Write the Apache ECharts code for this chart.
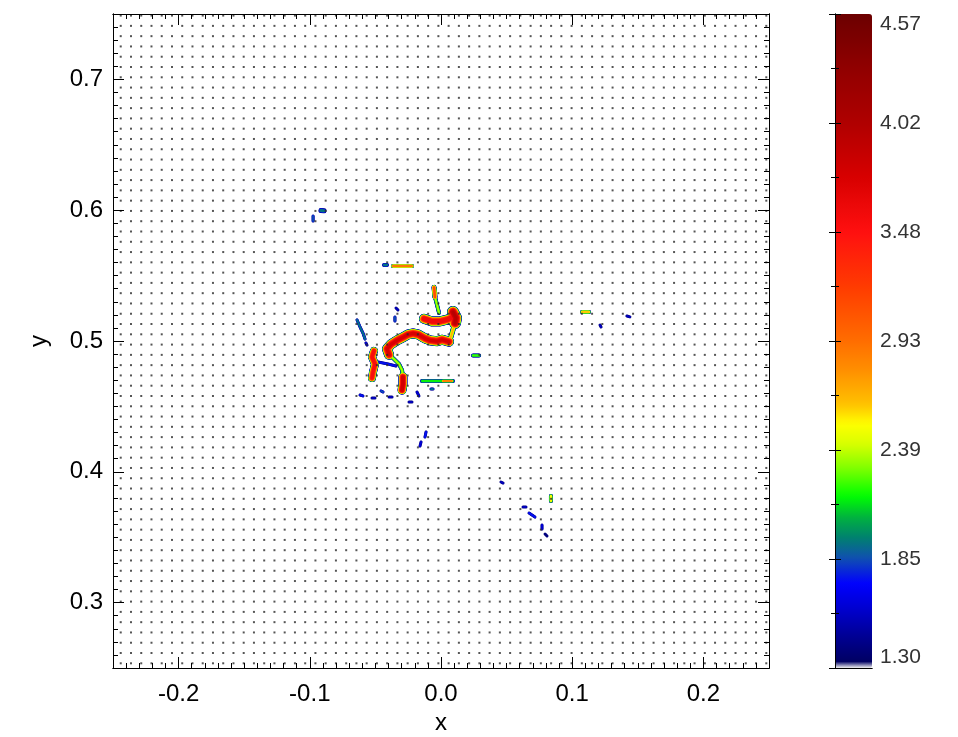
<!DOCTYPE html>
<html>
<head>
<meta charset="utf-8">
<script src="https://cdn.jsdelivr.net/npm/echarts@6/dist/echarts.min.js"></script>
<style>
  html, body { margin: 0; padding: 0; background: #ffffff; }
  #chart { width: 958px; height: 737px; }
</style>
</head>
<body>
<div id="chart"></div>
<script>
// ---- axis ticks and labels ----
const xTicks = [-0.2, -0.1, 0.0, 0.1, 0.2];
const yTicks = [0.3, 0.4, 0.5, 0.6, 0.7];
const cbarLabels = ['1.30', '1.85', '2.39', '2.93', '3.48', '4.02', '4.57'];
const cbarMin = 1.30;
const cbarMax = 4.57;

// ---- filament ridges: polylines of [x, y] and the peak value reached on each ----
const ridgePaths = [
  [[-0.0130, 0.5170], [-0.0069, 0.5150], [-0.0008, 0.5150], [0.0053, 0.5165], [0.0107, 0.5190]],   // hook, upper band
  [[0.0091, 0.5222], [0.0114, 0.5176], [0.0107, 0.5138]],                                          // hook, right knot
  [[0.0107, 0.5138], [0.0091, 0.5084], [0.0076, 0.5031], [0.0061, 0.4995]],                        // hook, right arm
  [[0.0061, 0.4995], [0.0008, 0.5010], [-0.0030, 0.4998], [-0.0084, 0.5005], [-0.0122, 0.5020],
   [-0.0175, 0.5050], [-0.0213, 0.5058], [-0.0251, 0.5050], [-0.0290, 0.5028], [-0.0335, 0.5005],
   [-0.0381, 0.4975], [-0.0412, 0.4940], [-0.0396, 0.4895]],                                       // central wiggle
  [[-0.0396, 0.4895], [-0.0358, 0.4862], [-0.0320, 0.4824], [-0.0297, 0.4778], [-0.0290, 0.4725]], // thin link
  [[-0.0290, 0.4725], [-0.0290, 0.4671], [-0.0297, 0.4625]],                                       // lower knot
  [[-0.0511, 0.4924], [-0.0526, 0.4878], [-0.0503, 0.4824], [-0.0518, 0.4763], [-0.0526, 0.4717]], // left knot
  [[-0.0480, 0.4839], [-0.0404, 0.4824], [-0.0343, 0.4809]],                                       // left link
  [[-0.0053, 0.5410], [-0.0046, 0.5336]],                                                          // vertical, upper
  [[-0.0046, 0.5336], [-0.0030, 0.5275], [-0.0015, 0.5215]],                                       // vertical, lower
  [[-0.0366, 0.5573], [-0.0221, 0.5573]],                                                          // upper bar
  [[-0.0434, 0.5581], [-0.0412, 0.5581]],
  [[-0.0145, 0.4694], [0.0091, 0.4694]],                                                           // lower bar
  [[0.0015, 0.4694], [0.0084, 0.4694]],
  [[-0.0640, 0.5161], [-0.0617, 0.5107], [-0.0595, 0.5061], [-0.0579, 0.5015]],                    // left diagonal
  [[0.0244, 0.4889], [0.0290, 0.4889]],
  [[-0.0915, 0.5998], [-0.0892, 0.5995]],
  [[-0.0975, 0.5956], [-0.0975, 0.5917]],
  [[-0.0343, 0.5252], [-0.0328, 0.5237]],
  [[-0.0351, 0.5184], [-0.0351, 0.5153]],
  [[-0.0617, 0.4587], [-0.0595, 0.4580]],
  [[-0.0526, 0.4564], [-0.0503, 0.4564]],
  [[-0.0457, 0.4618], [-0.0442, 0.4610]],
  [[-0.0396, 0.4572], [-0.0373, 0.4572]],
  [[-0.0244, 0.4534], [-0.0221, 0.4534]],
  [[-0.0183, 0.4610], [-0.0168, 0.4580]],
  [[-0.0076, 0.4633], [-0.0061, 0.4633]],
  [[-0.0114, 0.4304], [-0.0122, 0.4266]],
  [[-0.0152, 0.4228], [-0.0160, 0.4197]],
  [[0.0457, 0.3922], [0.0473, 0.3914]],
  [[0.0838, 0.3815], [0.0838, 0.3777]],
  [[0.0625, 0.3731], [0.0648, 0.3731]],
  [[0.0671, 0.3685], [0.0716, 0.3654]],
  [[0.0770, 0.3593], [0.0770, 0.3563]],
  [[0.0793, 0.3524], [0.0808, 0.3509]],
  [[0.1075, 0.5222], [0.1128, 0.5222]],
  [[0.1417, 0.5191], [0.1440, 0.5184]],
  [[0.1212, 0.5122], [0.1220, 0.5107]],
  [[-0.0572, 0.4985], [-0.0564, 0.4969]]
];
const ridgePeaks = [
  3.7, 4.0, 2.7, 3.8, 2.4, 3.9, 3.6, 1.8, 3.2, 2.4,
  3.0, 2.0, 2.2, 3.0, 2.0, 2.3,
  2.0, 1.9, 1.6, 1.9, 1.8, 1.6, 1.9, 1.6, 1.6, 1.7, 2.0, 1.8, 1.7,
  1.6, 2.6, 1.6, 1.8, 1.7, 1.5, 2.7, 1.6, 1.6, 1.7
];

// ---- drawing style ----
// full ridge thickness in pixels, one per ridge
const ridgeWidths = [
  10, 12, 5, 10, 4, 9, 8, 3, 5, 4,
  4, 4, 4, 3, 3, 4,
  5, 3, 3, 3, 3, 3, 3, 3, 3, 3, 3, 3, 3,
  3, 4, 3, 3, 3, 3, 4, 3, 3, 3
];
// contour levels used to shade each ridge from its rim to its crest
const shadeLevels = [1.30, 1.50, 1.70, 1.85, 2.00, 2.15, 2.30, 2.45, 2.60, 2.80,
                     3.00, 3.20, 3.45, 3.70, 3.95, 4.20, 4.45];
// colour table
const colorStops = [
  [1.300, '#f4f4f4'], [1.315, '#b0b0b0'], [1.325, '#000060'], [1.45, '#000090'],
  [1.60, '#0000d0'], [1.72, '#0000ff'], [1.85, '#1050b0'], [1.95, '#008070'],
  [2.05, '#00b040'], [2.16, '#00ff00'], [2.30, '#80ff00'], [2.42, '#d8ff00'],
  [2.52, '#ffff00'], [2.62, '#ffc000'], [2.80, '#ff8c00'], [2.95, '#ff6a00'],
  [3.20, '#ff3c00'], [3.48, '#ff1010'], [3.75, '#d80000'], [4.02, '#b00000'],
  [4.30, '#900000'], [4.57, '#6c0000']
];

function hexToRgb(h) {
  return [parseInt(h.slice(1, 3), 16), parseInt(h.slice(3, 5), 16), parseInt(h.slice(5, 7), 16)];
}
function colorAt(v) {
  if (v <= colorStops[0][0]) return colorStops[0][1];
  for (let i = 1; i < colorStops.length; i++) {
    if (v <= colorStops[i][0]) {
      const [v0, c0] = colorStops[i - 1];
      const [v1, c1] = colorStops[i];
      const f = (v - v0) / (v1 - v0);
      const a = hexToRgb(c0), b = hexToRgb(c1);
      const m = a.map((x, k) => Math.round(x + (b[k] - x) * f));
      return 'rgb(' + m.join(',') + ')';
    }
  }
  return colorStops[colorStops.length - 1][1];
}

// colour list for the colour bar, sampled evenly from min to max
const barColors = [];
for (let i = 0; i <= 300; i++) barColors.push(colorAt(cbarMin + (cbarMax - cbarMin) * i / 300));

// minor tick positions every 0.01
function minorTicks(lo, hi) {
  const out = [];
  for (let k = Math.round(lo * 100); k <= Math.round(hi * 100); k++) out.push(k / 100);
  return out;
}
const xMinor = minorTicks(-0.25, 0.25);
const yMinor = minorTicks(0.25, 0.75);

// sampling lattice drawn as small dots over the domain
const latticeX0 = -0.2441, latticeY0 = 0.2536, latticeStepX = 0.00781, latticeStepY = 0.00786, latticeN = 64;
const latticeDots = [];
for (let i = 0; i < latticeN; i++) {
  for (let j = 0; j < latticeN; j++) {
    latticeDots.push([latticeX0 + i * latticeStepX, latticeY0 + j * latticeStepY]);
  }
}

// one 'lines' series per shading level, so every rim sits beneath every crest
const ridgeSeries = shadeLevels.map((t, li) => {
  const next = li + 1 < shadeLevels.length ? shadeLevels[li + 1] : Infinity;
  const data = [];
  ridgePaths.forEach((path, i) => {
    const v = ridgePeaks[i];
    if (v <= t) return;
    const top = Math.min(v, next);
    const frac = Math.pow((v - t) / (v - cbarMin), 0.35);
    data.push({
      coords: path,
      lineStyle: { width: Math.max(1, ridgeWidths[i] * frac), color: colorAt((t + top) / 2) }
    });
  });
  return {
    type: 'lines',
    coordinateSystem: 'cartesian2d',
    polyline: true,
    xAxisIndex: 0,
    yAxisIndex: 0,
    z: 3 + li,
    silent: true,
    lineStyle: { cap: 'round', join: 'round', opacity: 1 },
    data: data
  };
});

const labelFont = { fontFamily: 'Liberation Sans', fontSize: 24, color: '#000' };
const axisLineStyle = { color: '#000', width: 1 };

function mainAxis(kind, pos, major, minor, range, labelled, extra) {
  const ax = {
    type: 'value', gridIndex: 0, position: pos,
    min: range[0], max: range[1],
    axisLine: { show: true, onZero: false, lineStyle: axisLineStyle },
    axisTick: { show: true, inside: true, length: major ? 11 : 5,
                customValues: major ? (kind === 'x' ? xTicks : yTicks) : minor,
                lineStyle: { color: '#000', width: 1 } },
    axisLabel: { show: false },
    splitLine: { show: false },
    z: 60
  };
  if (labelled) {
    ax.axisLabel = Object.assign({
      show: true,
      customValues: kind === 'x' ? xTicks : yTicks,
      formatter: v => v.toFixed(1),
      margin: kind === 'x' ? 14 : 10
    }, labelFont);
  }
  return Object.assign(ax, extra || {});
}

const option = {
  animation: false,
  backgroundColor: '#ffffff',
  grid: [
    { left: 113, top: 14, width: 656, height: 654, outerBoundsMode: 'none', containLabel: false },
    { left: 835, top: 14, width: 37, height: 654, outerBoundsMode: 'none', containLabel: false }
  ],
  xAxis: [
    mainAxis('x', 'bottom', true, null, [-0.25, 0.25], true, {
      name: 'x', nameLocation: 'middle', nameGap: 41,
      nameTextStyle: { fontFamily: 'Liberation Sans', fontSize: 24, color: '#000' }
    }),
    mainAxis('x', 'bottom', false, xMinor, [-0.25, 0.25], false),
    mainAxis('x', 'top', true, null, [-0.25, 0.25], false),
    mainAxis('x', 'top', false, xMinor, [-0.25, 0.25], false),
    { type: 'value', gridIndex: 1, position: 'bottom', min: 0, max: 1, z: 60,
      axisLine: { show: true, lineStyle: axisLineStyle }, axisTick: { show: false },
      axisLabel: { show: false }, splitLine: { show: false } },
    { type: 'value', gridIndex: 1, position: 'top', min: 0, max: 1, z: 60,
      axisLine: { show: true, lineStyle: axisLineStyle }, axisTick: { show: false },
      axisLabel: { show: false }, splitLine: { show: false } }
  ],
  yAxis: [
    mainAxis('y', 'left', true, null, [0.25, 0.75], true, {
      name: 'y', nameLocation: 'middle', nameGap: 62,
      nameTextStyle: { fontFamily: 'Liberation Sans', fontSize: 24, color: '#000' }
    }),
    mainAxis('y', 'left', false, yMinor, [0.25, 0.75], false),
    mainAxis('y', 'right', true, null, [0.25, 0.75], false),
    mainAxis('y', 'right', false, yMinor, [0.25, 0.75], false),
    { type: 'value', gridIndex: 1, position: 'right', min: 0, max: 6, interval: 1, z: 60,
      axisLine: { show: true, lineStyle: axisLineStyle },
      axisTick: { show: true, inside: true, length: 6, lineStyle: { color: '#000' } },
      minorTick: { show: true, splitNumber: 2, length: 4, lineStyle: { color: '#000' } },
      axisLabel: { show: true, formatter: v => cbarLabels[v], margin: 8,
                   fontFamily: 'Liberation Sans', fontSize: 21, color: '#333',
                   verticalAlignMinLabel: 'bottom', verticalAlignMaxLabel: 'top' },
      splitLine: { show: false } },
    { type: 'value', gridIndex: 1, position: 'left', min: 0, max: 6, interval: 1, z: 60,
      axisLine: { show: true, lineStyle: axisLineStyle },
      axisTick: { show: true, inside: true, length: 6, lineStyle: { color: '#000' } },
      minorTick: { show: true, splitNumber: 2, length: 4, lineStyle: { color: '#000' } },
      axisLabel: { show: false }, splitLine: { show: false } }
  ],
  visualMap: {
    type: 'continuous',
    min: cbarMin, max: cbarMax,
    orient: 'vertical',
    left: 835, top: 14,
    itemWidth: 37, itemHeight: 654,
    padding: 0,
    calculable: false,
    text: null,
    seriesIndex: [],
    inRange: { color: barColors },
    z: 2
  },
  series: ridgeSeries.concat([{
    type: 'scatter',
    xAxisIndex: 0, yAxisIndex: 0,
    symbol: 'rect', symbolSize: 2,
    itemStyle: { color: '#2a2a2a' },
    silent: true,
    z: 40,
    data: latticeDots
  }])
};

const chart = echarts.init(document.getElementById('chart'), null, { renderer: 'canvas' });
chart.setOption(option);
</script>
</body>
</html>
